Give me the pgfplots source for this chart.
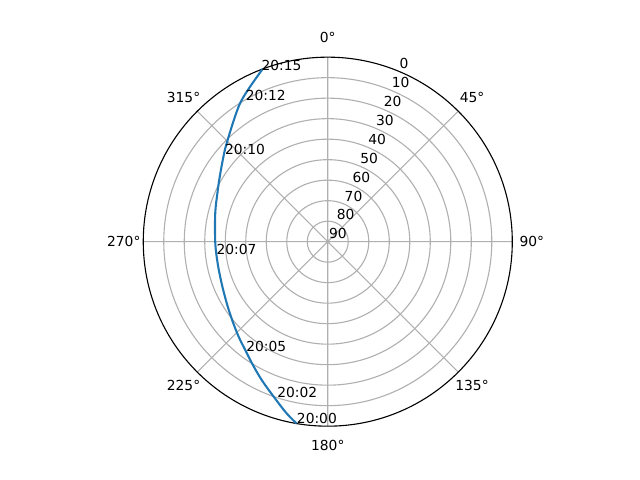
\documentclass[border=0pt]{standalone}
\usepackage{fontspec}
\setmainfont{DejaVu Sans}
\usepackage{pgfplots}
\pgfplotsset{compat=1.18}
\usepackage{pgfplotstable}
\usepgfplotslibrary{polar}
\definecolor{mplblue}{HTML}{1F77B4}
\definecolor{gridgray}{HTML}{B0B0B0}

% azimuth (deg, clockwise from north), elevation (deg)
\pgfplotstableread{
az el
189.7 0.0
193.5 3.9
199.0 9.7
205.5 15.2
211.8 20.0
216.8 23.3
222.2 26.0
227.7 28.5
235.3 31.3
243.6 33.5
252.0 34.8
260.6 35.3
270.0 35.1
284.1 33.4
293.7 31.2
299.6 29.1
307.9 25.1
314.2 21.2
325.5 12.1
331.05 7.3
339.3 0.0
}\passdata

\pgfplotstableread{
az el label
189.7 0.0 20:00
198.0 10.0 20:02
216.7 23.3 20:05
263.2 35.2 20:07
310.1 24.3 20:10
329.7 10.5 20:12
338.75 0.5 20:15
}\labeldata

\begin{document}
\begin{tikzpicture}
\begin{polaraxis}[
  scale only axis, width=265.7bp, height=265.7bp,
  xmin=0, xmax=360, ymin=0, ymax=90,
  xtick={0,45,...,315}, ytick={10,20,...,80},
  xticklabels={}, yticklabels={},
  major tick length=0pt,
  xmajorgrids, ymajorgrids,
  major grid style={gridgray, line width=0.8pt},
  x axis line style={black, line width=0.8pt},
  y axis line style={draw=none},
  clip=false,
  font=\fontsize{10}{12}\selectfont,
]
\addplot[mplblue, line width=1.5pt, smooth, tension=0.6]
  table[x expr={90-\thisrow{az}}, y expr={90-\thisrow{el}}] {\passdata};
\addplot[draw=none, mark=none, nodes near coords, point meta=explicit symbolic,
  nodes near coords style={anchor=base west, inner sep=0pt, text=black, font=\fontsize{10}{12}\selectfont}]
  table[x expr={90-\thisrow{az}}, y expr={90-\thisrow{el}}, meta=label] {\labeldata};
% angular labels
\node[anchor=center] at (axis cs:90,99.5) {0°};
\node[anchor=center] at (axis cs:45,99.5) {45°};
\node[anchor=center] at (axis cs:0,99.5) {90°};
\node[anchor=center] at (axis cs:-45,99.5) {135°};
\node[anchor=center] at (axis cs:270,99.5) {180°};
\node[anchor=center] at (axis cs:225,99.5) {225°};
\node[anchor=center] at (axis cs:180,99.5) {270°};
\node[anchor=center] at (axis cs:135,99.5) {315°};
% radial labels
\node[anchor=base west, inner sep=0pt, xshift=0.7bp, yshift=2bp] at (axis cs:67.5,90) {0};
\node[anchor=base west, inner sep=0pt, xshift=0.7bp, yshift=2bp] at (axis cs:67.5,80) {10};
\node[anchor=base west, inner sep=0pt, xshift=0.7bp, yshift=2bp] at (axis cs:67.5,70) {20};
\node[anchor=base west, inner sep=0pt, xshift=0.7bp, yshift=2bp] at (axis cs:67.5,60) {30};
\node[anchor=base west, inner sep=0pt, xshift=0.7bp, yshift=2bp] at (axis cs:67.5,50) {40};
\node[anchor=base west, inner sep=0pt, xshift=0.7bp, yshift=2bp] at (axis cs:67.5,40) {50};
\node[anchor=base west, inner sep=0pt, xshift=0.7bp, yshift=2bp] at (axis cs:67.5,30) {60};
\node[anchor=base west, inner sep=0pt, xshift=0.7bp, yshift=2bp] at (axis cs:67.5,20) {70};
\node[anchor=base west, inner sep=0pt, xshift=0.7bp, yshift=2bp] at (axis cs:67.5,10) {80};
\node[anchor=base west, inner sep=0pt, xshift=0.7bp, yshift=2bp] at (axis cs:67.5,0) {90};
\coordinate (C) at (axis cs:0,0);
\end{polaraxis}
\path (C) ++(-236bp,-171.6bp) rectangle ++(460.8bp,345.6bp);
\end{tikzpicture}
\end{document}
